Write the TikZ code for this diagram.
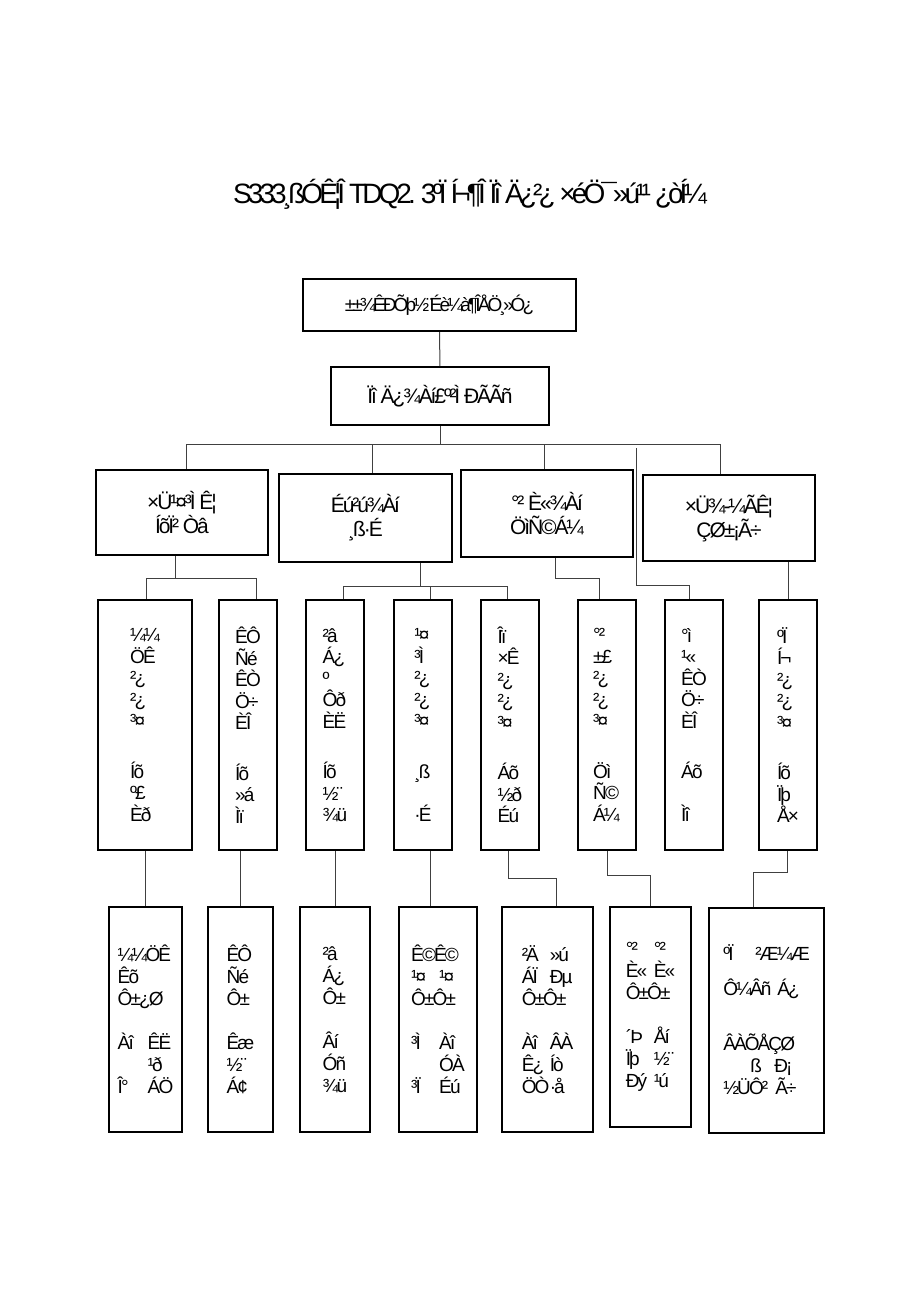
\documentclass[tikz,border=0pt]{standalone}
\usepackage{fontspec}
\setmainfont{Liberation Sans}[LetterSpace=-10]
\newfontfamily\titlefont{Liberation Sans}[LetterSpace=-14]
\newfontfamily\tightfont{Liberation Sans}[LetterSpace=-15]
\newcommand{\twocol}[3][14pt]{\makebox[#1][l]{#2}#3}

\begin{document}
\begin{tikzpicture}[x=0.5pt, y=-0.5pt,
            box/.style = {draw, line width=1pt, inner sep=0pt},
            head/.style = {box, align=center, font=\fontsize{10.5}{12}\selectfont},
            dept/.style = {box, align=center, minimum width=86pt, font=\fontsize{10.5}{12}\selectfont},
            post/.style = {box, align=left, minimum width=29pt, minimum height=125pt, font=\fontsize{9.5}{10.75}\selectfont},
            staff/.style = {box, align=left, minimum height=112.5pt, font=\fontsize{9.5}{11}\selectfont},
            line/.style = {draw, line width=0.5pt, black!75},
        ]
            \useasboundingbox (0,0) rectangle (920,1302);

            % Title
            \node[anchor=base, font=\titlefont\fontsize{14}{16}\selectfont] (title) at (470,203)
                {S333¸ßÓÊ¦Î TDQ2. 3ºÏ Í¬¶Î Ïî Ä¿²¿ ×éÖ¯»ú¹¹ ¿òÍ¼};

            % Top two boxes
            \node[head, minimum width=136.5pt, minimum height=26pt, font=\tightfont\fontsize{9.5}{11}\selectfont] (top) at (439.5,305) {±±¾ÊÐÕþ½¨Éè¼à¶ÎÅÖ¸»Ó¿};
            \node[head, minimum width=109pt, minimum height=29pt] (pm) at (440,396) {Ïî Ä¿¾Àí£º²Ì ÐÃÃñ};

            % Second row: managers
            \node[dept, minimum height=42.5pt] (zg) at (182,512.5) {×Ü¹¤³Ì Ê¦\\ÍõÏ² Òâ};
            \node[dept, minimum height=44pt, minimum width=86.5pt] (sc) at (365.5,518) {Éú²ú¾Àí\\¸ß·É};
            \node[dept, minimum height=43.5pt] (aq) at (547,513.5) {°² È«¾Àí\\ÖìÑ©Á¼};
            \node[dept, minimum height=43pt] (zj) at (729,518) {×Ü¾-¼ÃÊ¦\\ÇØ±¡Ã÷};

            % Third row: departments
            \node[post, minimum width=47pt] (js) at (145,725) {¼¼\\ÖÊ\\²¿\\²¿\\³¤\\[14.5pt]Íõ\\º£\\Èð};
            \node[post] (sy) at (248,725) {ÊÔ\\Ñé\\ÊÒ\\Ö÷\\ÈÎ\\[14.5pt]Íõ\\»á\\Ìï};
            \node[post] (cl) at (335,725) {²â\\Á¿\\º\\Ôð\\ÈË\\[14.5pt]Íõ\\½¨\\¾ü};
            \node[post] (gc) at (423,725) {¹¤\\³Ì\\²¿\\²¿\\³¤\\[14.5pt]¸ß\\~\\·É};
            \node[post] (wz) at (510,725) {Îï\\×Ê\\²¿\\²¿\\³¤\\[14.5pt]Áõ\\½ð\\Éú};
            \node[post] (ab) at (606.5,725) {°²\\±£\\²¿\\²¿\\³¤\\[14.5pt]Öì\\Ñ©\\Á¼};
            \node[post] (bg) at (694,725) {°ì\\¹«\\ÊÒ\\Ö÷\\ÈÎ\\[14.5pt]Áõ\\~\\Ìî};
            \node[post] (ht) at (788,725) {ºÏ\\Í¬\\²¿\\²¿\\³¤\\[14.5pt]Íõ\\Ïþ\\Å×};

            % Bottom row: staff
            \node[staff, minimum width=36.5pt] (jsr) at (145.5,1019.5) {¼¼ÖÊ\\Êõ\\Ô±¿Ø\\[11pt]\twocol[15pt]{Àî}{ÊË}\\\twocol[15pt]{}{¹ð}\\\twocol[15pt]{Î°}{ÁÖ}};
            \node[staff, minimum width=32.5pt] (syr) at (240.5,1019.5) {ÊÔ\\Ñé\\Ô±\\[11pt]Êæ\\½¨\\Á¢};
            \node[staff, minimum width=35pt] (clr) at (335,1019.5) {²â\\Á¿\\Ô±\\[11pt]Âí\\Óñ\\¾ü};
            \node[staff, minimum width=39pt] (gcr) at (438,1019.5) {Ê©Ê©\\\twocol{¹¤}{¹¤}\\Ô±Ô±\\[11pt]\twocol{³Ì}{Àî}\\\twocol{}{ÓÀ}\\\twocol{³Ï}{Éú}};
            \node[staff, minimum width=45.5pt] (wzr) at (547.5,1019.5) {\twocol{²Ä}{»ú}\\\twocol{ÁÏ}{Ðµ}\\Ô±Ô±\\[11pt]\twocol{Àî}{ÂÀ}\\\twocol{Ê¿}{Íò}\\\twocol{ÖÒ}{·å}};
            \node[staff, minimum width=40.5pt, minimum height=110pt] (abr) at (650.5,1017) {\twocol{°²}{°²}\\\twocol{È«}{È«}\\Ô±Ô±\\[11pt]\twocol{´Þ}{Åí}\\\twocol{Ïþ}{½¨}\\\twocol{Ðý}{¹ú}};
            \node[staff, minimum width=57.5pt] (htr) at (766.5,1020) {\twocol[16pt]{ºÏ}{²Æ¼Æ}\\[6.5pt]\twocol[27pt]{Ô¼Âñ}{Á¿}\\[16.5pt]ÂÀÕÅÇØ\\\makebox[13.5pt]{}\twocol[12pt]{ß}{Ð¡}\\\twocol[26pt]{½ÜÔ²}{Ã÷}};

            % Top to manager, manager to bus
            \coordinate (bz) at (186,444);
            \coordinate (bs) at (372,444);
            \coordinate (ba) at (544,444);
            \coordinate (bj) at (720,444);
            \draw[line] (top) -- (pm);
            \draw[line] (pm.south) -- (pm.south |- bz);
            \draw[line] (bz) -- (bj);
            \foreach \d/\j in {zg/bz, sc/bs, aq/ba, zj/bj}
                \draw[line] (\j) -- (\d.north -| \j);

            % Office line (not joined to the bus)
            \coordinate (o1) at (636,448);
            \coordinate (o2) at (636,585);
            \coordinate (o3) at (689,585);
            \draw[line] (o1) -- (o2) -- (o3) -- (o3 |- bg.north);

            % Chief engineer to departments
            \coordinate (g1) at (175,578);
            \coordinate (g2) at (146,578);
            \coordinate (g3) at (256,578);
            \draw[line] (zg.south -| g1) -- (g1);
            \draw[line] (g2 |- js.north) -- (g2) -- (g3) -- (g3 |- sy.north);

            % Production manager to departments
            \coordinate (p1) at (420,586);
            \coordinate (p2) at (343,586);
            \coordinate (p3) at (430,586);
            \coordinate (p4) at (507,586);
            \draw[line] (sc.south -| p1) -- (p1);
            \draw[line] (p2 |- cl.north) -- (p2) -- (p4) -- (p4 |- wz.north);
            \draw[line] (p3) -- (p3 |- gc.north);

            % Safety manager and economist
            \coordinate (a1) at (555,578);
            \coordinate (a2) at (599,578);
            \draw[line] (aq.south -| a1) -- (a1) -- (a2) -- (a2 |- ab.north);
            \draw[line] (zj.south -| ht.north) -- (ht.north);

            % Departments to staff
            \draw[line] (js.south) -- (js.south |- jsr.north);
            \draw[line] (syr.north) -- (syr.north |- sy.south);
            \draw[line] (cl.south) -- (cl.south |- clr.north);
            \coordinate (e1) at (430,878);
            \draw[line] (gc.south -| e1) -- (e1 |- gcr.north);
            \coordinate (w1) at (508,878);
            \coordinate (w2) at (556,878);
            \draw[line] (wz.south -| w1) -- (w1) -- (w2) -- (w2 |- wzr.north);
            \coordinate (s1) at (607,875);
            \coordinate (s2) at (650,875);
            \draw[line] (ab.south -| s1) -- (s1) -- (s2) -- (s2 |- abr.north);
            \coordinate (h1) at (787,872);
            \coordinate (h2) at (753,872);
            \draw[line] (ht.south -| h1) -- (h1) -- (h2) -- (h2 |- htr.north);
        \end{tikzpicture}
\end{document}
